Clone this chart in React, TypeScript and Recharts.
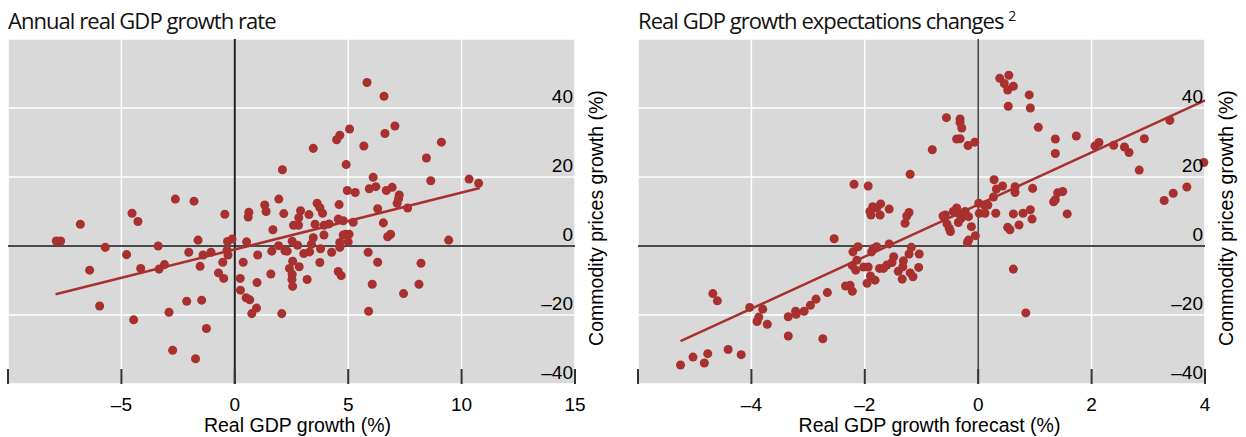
import React from 'react';
import {
  ScatterChart,
  Scatter,
  XAxis,
  YAxis,
  ZAxis,
  CartesianGrid,
  ReferenceLine,
  Label,
} from 'recharts';

// Left panel: annual real GDP growth vs commodity price growth
const leftX = [
  -7.87, -7.68, -6.81, -5.71, -6.4, -5.96, -4.53, -4.27, -4.77, -4.15, -4.46,
  -3.38, -3.34, -3.1, -2.62, -1.8, -2.9, -2.12, -1.46, -2.74, -1.73, -1.25,
  -2.03, -1.62, -1.4, -1.05, -1.53, -0.53, -0.72, -0.49, -0.44, -0.32, -0.12, -0.34, -0.3,
  5.83, 6.58, 7.06, 6.62, 5.06, 4.63, 4.49, 5.69, 3.46, 4.91, 2.1, 8.45, 6.1, 5.93,
  6.22, 6.94, 6.68, 4.96, 5.31, 7.25, 7.22, 7.16, 7.62, 6.3, 6.55, 6.87, 6.74, 4.6,
  5.22, 4.78, 4.56, 4.89, 5.04, 4.78, 5.0, 4.63, 4.63, 5.88, 3.63, 3.75, 3.87, 3.27,
  2.9, 2.82, 2.16, 1.94, 1.32, 1.38, 0.62, 0.59, 1.68, 2.59, 2.81, 3.54, 3.94, 4.16,
  3.93, 3.46, 3.38, 2.53, 2.77, 1.93, 3.78, 4.27, 3.04, 3.3, 1.63, 2.21, 2.31, 1.01, 0.52,
  0.37, 0.24, 0.25, 0.98, 1.59, 0.5, 0.66, 0.96, 0.75, 2.07, 2.55, 2.41, 2.84, 2.53,
  2.52, 2.55, 3.19, 3.75, 4.56, 4.69, 6.3, 6.06, 7.44, 8.12, 8.21, 5.9,
  9.11, 8.64, 10.33, 10.75, 9.43,
];
const leftY = [
  1.45, 1.45, 6.3, -0.4, -7.0, -17.4, 9.5, 7.1, -2.5, -6.5, -21.4,
  0, -6.7, -5.4, 13.6, 13.0, -19.2, -16.0, -15.7, -30.2, -32.7, -23.9,
  -1.8, 1.7, -2.6, -1.8, -5.9, -4.7, -7.8, -9.4, 9.2, 1.3, 2.0, -1.2, -2.6,
  47.4, 43.4, 34.8, 32.6, 33.9, 32.1, 30.8, 29.0, 28.3, 23.6, 22.1, 25.5, 19.9, 16.6,
  17.2, 17.0, 16.1, 16.1, 15.5, 14.8, 13.7, 12.4, 11.0, 10.8, 6.7, 3.4, 2.7, 12.0,
  6.9, 7.3, 7.8, 3.4, 3.4, 3.2, 1.2, 1.0, -0.4, -1.8, 12.4, 11.1, 9.5, 9.1,
  10.2, 8.2, 9.4, 13.6, 11.9, 10.0, 9.8, 8.4, 4.7, 6.0, 6.0, 6.3, 6.0, 6.4,
  3.2, 2.4, 0.5, 1.4, 0.2, 0.1, -0.8, -1.8, -2.2, -1.7, -1.5, -1.4, -1.5, -2.6, 1.2,
  -4.7, -9.4, -12.8, -10.6, -8.1, -15.0, -15.6, -18.0, -19.6, -19.6, -4.4, -6.5, -6.0, -8.2,
  -9.7, -11.7, -9.7, -4.8, -7.4, -8.6, -4.7, -11.1, -13.8, -11.1, -5.0, -18.9,
  30.1, 18.9, 19.4, 18.2, 1.7,
];
const leftFitX = [-7.9, 10.8];
const leftFitY = [-14.0, 16.8];

// Right panel: real GDP growth forecast changes vs commodity price growth
const rightX = [
  -5.25, -5.03, -4.83, -4.77, -4.41, -4.18, -4.68, -4.6, -4.03, -3.8, -3.87, -3.9, -3.72,
  -3.35, -3.35, -3.22, -3.21, -3.07, -2.96, -2.86, -2.74, -2.66, -2.54, -2.34, -2.26, -2.22,
  -2.22, -2.16, -2.14, -2.21, -2.12, -2.02, -1.94, -1.96, -1.9, -1.82,
  0.38, 0.54, 0.46, 0.62, 0.52, 0.53, 0.9, 0.92, 1.06, -0.56, -0.32, -0.32, -0.29, -0.38,
  -0.32, -0.18, -0.06, -0.81, -1.2, -2.19, -1.94, -1.91, -1.86, -1.79, -1.72, -1.73, -1.89,
  -1.57, -1.22, -1.26, -1.29, -0.62, -0.58, -0.55, -0.51, -0.49, -0.44, -0.38, -0.35, -0.3,
  -0.26, -0.23, -0.35, -0.17, -0.12, -0.05, -0.17, -0.19, 0.01, 0.02, 0.11, 0.17, 0.12,
  0.28, 0.32, 0.43, 0.27, 0.31, 0.65, 0.65, 0.96, 0.62, 0.79, 0.92, 0.95, 0.52, 0.56, 0.72,
  -1.85, -1.79, -1.88, -1.57, -1.18, -1.22, -1.04, -1.49, -1.32, -1.52, -1.61, -1.67, -1.74,
  -1.41, -1.33, -1.34, -1.2, -1.15, -1.05, 0.62, 0.84,
  1.36, 1.36, 1.73, 2.06, 2.13, 2.39, 2.58, 2.66, 2.93, 2.84, 3.38, 3.28, 3.44, 3.68, 3.98,
  1.33, 1.36, 1.4, 1.49, 1.57,
];
const rightY = [
  -34.5, -32.2, -33.9, -31.2, -30.0, -31.5, -13.8, -15.9, -17.8, -18.3, -20.6, -21.9, -22.7,
  -20.5, -26.1, -18.9, -19.8, -18.9, -17.2, -15.4, -26.9, -13.5, 2.1, -11.6, -11.4, -13.1,
  -5.7, -7.0, -4.1, -1.7, -0.2, -6.1, -6.1, -10.8, -8.7, -9.9,
  48.6, 49.5, 47.1, 46.3, 45.2, 40.5, 43.8, 40.0, 34.4, 37.2, 36.8, 35.8, 34.2, 31.0,
  31.1, 29.1, 30.1, 27.9, 20.8, 17.9, 17.4, 10.0, 11.4, 11.0, 12.2, 9.0, 9.0,
  10.7, 9.7, 8.7, 6.6, 8.7, 9.0, 6.4, 5.1, 4.2, 10.0, 11.0, 9.5, 8.0,
  9.3, 10.0, 6.8, 8.5, 5.6, 3.0, 1.7, 1.0, 12.4, 9.5, 11.9, 11.9, 9.5,
  19.2, 16.5, 17.4, 14.2, 9.5, 17.2, 15.5, 16.7, 9.3, 9.5, 10.5, 7.8, 5.4, 4.7, 6.1,
  -0.7, -0.2, -1.7, 0.6, -0.4, -2.3, -2.3, -3.1, -4.3, -4.8, -5.5, -6.5, -6.5,
  -7.3, -6.0, -9.6, -7.8, -8.9, -6.2, -6.7, -19.4,
  31.0, 26.8, 31.9, 29.0, 30.0, 29.2, 28.7, 27.1, 31.1, 22.0, 36.4, 13.2, 15.3, 17.1, 24.2,
  12.8, 13.4, 15.4, 15.8, 9.3,
];
const rightFitX = [-5.25, 4];
const rightFitY = [-27.6, 42.2];

const leftXTicks = [-10, -5, 0, 5, 10, 15];
const rightXTicks = [-6, -4, -2, 0, 2, 4];
const yTicks = [-40, -20, 0, 20, 40, 60];

const RED = '#a8302f';
const FONT = '"Liberation Sans", Arial, sans-serif';

const toPoints = (xs: number[], ys: number[]) => xs.map((x, i) => ({ x, y: ys[i] }));
const fmt = (v: number) => (v < 0 ? `\u2013${Math.abs(v)}` : `${v}`);

const XTick = (props: any) => {
  const { x, y, payload, hideValue } = props;
  return (
    <g>
      <line x1={x} x2={x} y1={y - 15} y2={y} stroke="#333" strokeWidth={2} />
      {payload.value !== hideValue && (
        <text x={x} y={y + 27} textAnchor="middle" fontFamily={FONT} fontSize={19} fill="#000">
          {fmt(payload.value)}
        </text>
      )}
    </g>
  );
};

const YTick = (props: any) => {
  const { x, y, payload } = props;
  if (payload.value === 60) return <g />;
  return (
    <text x={x - 2} y={y - 5} textAnchor="end" fontFamily={FONT} fontSize={19} fill="#000">
      {fmt(payload.value)}
    </text>
  );
};

interface PanelProps {
  xs: number[];
  ys: number[];
  fitX: number[];
  fitY: number[];
  xTicks: number[];
  xTitle: string;
  xTitleShift: number;
  marginLeft: number;
  axisWidth: number;
  zeroLineWidth: number;
}

const Panel = ({ xs, ys, fitX, fitY, xTicks, xTitle, xTitleShift, marginLeft, axisWidth, zeroLineWidth }: PanelProps) => {
  const data = toPoints(xs, ys);
  const fit = toPoints(fitX, fitY);
  return (
    <ScatterChart width={623} height={437} margin={{ top: 39, right: 0, bottom: 0, left: marginLeft }}>
      <CartesianGrid fill="#d9d9d9" fillOpacity={1} stroke="#ffffff" strokeWidth={1.5} />
      <XAxis
        type="number"
        dataKey="x"
        domain={[xTicks[0], xTicks[xTicks.length - 1]]}
        ticks={xTicks}
        interval={0}
        axisLine={false}
        tickLine={false}
        tickSize={0}
        tickMargin={0}
        height={53}
        tick={(p: any) => <XTick {...p} hideValue={xTicks[0]} />}
      >
        <Label
          content={(p: any) => {
            const vb = p.viewBox || { x: 0, y: 0, width: 0, height: 0 };
            return (
              <text
                x={vb.x + vb.width / 2 + xTitleShift}
                y={vb.y + 48}
                textAnchor="middle"
                fontFamily={FONT}
                fontSize={19.5}
                fill="#000"
              >
                {xTitle}
              </text>
            );
          }}
        />
      </XAxis>
      <YAxis
        type="number"
        dataKey="y"
        orientation="right"
        domain={[-40, 60]}
        ticks={yTicks}
        interval={0}
        width={axisWidth}
        axisLine={false}
        tickLine={false}
        tickSize={0}
        tickMargin={0}
        tick={(p: any) => <YTick {...p} />}
      >
        <Label
          content={(p: any) => {
            const vb = p.viewBox || { x: 0, y: 0, width: 0, height: 0 };
            const cx = vb.x + 28;
            const cy = vb.y + vb.height / 2 + 6.5;
            return (
              <text
                x={cx}
                y={cy}
                transform={`rotate(-90, ${cx}, ${cy})`}
                textAnchor="middle"
                fontFamily={FONT}
                fontSize={19.5}
                fill="#000"
              >
                Commodity prices growth (%)
              </text>
            );
          }}
        />
      </YAxis>
      <ZAxis range={[43, 43]} />
      <ReferenceLine y={0} stroke="#4a4a4a" strokeWidth={2} />
      <ReferenceLine x={0} stroke="#222" strokeWidth={zeroLineWidth} />
      <Scatter data={data} fill={RED} isAnimationActive={false} />
      <Scatter
        data={fit}
        line={{ stroke: RED, strokeWidth: 2.5 }}
        shape={() => <g />}
        isAnimationActive={false}
      />
    </ScatterChart>
  );
};

const titleStyle: React.CSSProperties = {
  position: 'absolute',
  top: 2,
  fontFamily: '"Open Sans", sans-serif',
  fontSize: 22,
  letterSpacing: -0.95,
  lineHeight: '36px',
  color: '#111',
  whiteSpace: 'nowrap',
};

export default function App() {
  return (
    <div style={{ position: 'absolute', left: 0, top: 0, width: 1246, height: 437, background: '#fff' }}>
      <div style={{ position: 'absolute', left: 0, top: 0 }}>
        <Panel
          xs={leftX}
          ys={leftY}
          fitX={leftFitX}
          fitY={leftFitY}
          xTicks={leftXTicks}
          xTitle="Real GDP growth (%)"
          xTitleShift={6}
          marginLeft={8}
          axisWidth={48}
          zeroLineWidth={2}
        />
      </div>
      <div style={{ position: 'absolute', left: 623, top: 0 }}>
        <Panel
          xs={rightX}
          ys={rightY}
          fitX={rightFitX}
          fitY={rightFitY}
          xTicks={rightXTicks}
          xTitle="Real GDP growth forecast (%)"
          xTitleShift={8}
          marginLeft={15}
          axisWidth={41}
          zeroLineWidth={1.3}
        />
      </div>
      <div style={{ ...titleStyle, left: 8 }}>Annual real GDP growth rate</div>
      <div style={{ ...titleStyle, left: 638 }}>
        Real GDP growth expectations changes <sup style={{ fontSize: 14, verticalAlign: 'super', lineHeight: 0 }}>2</sup>
      </div>
    </div>
  );
}
